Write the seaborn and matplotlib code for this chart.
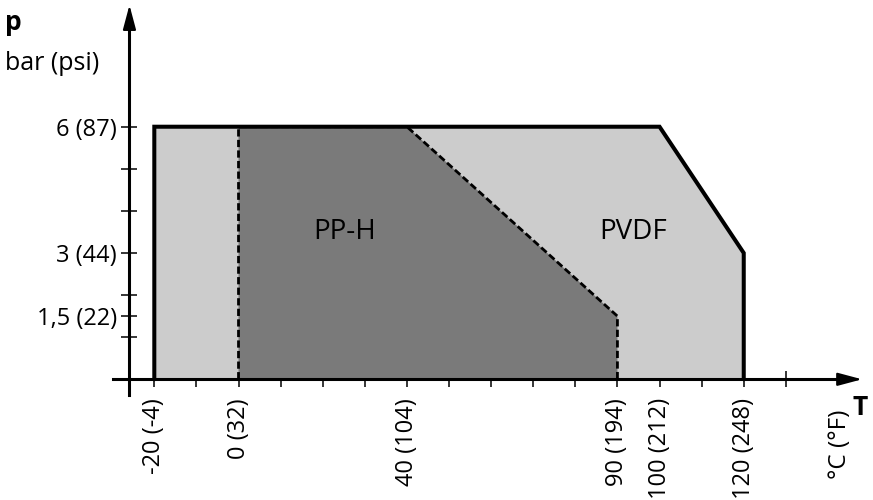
import matplotlib
matplotlib.use("Agg")
import matplotlib.pyplot as plt
import seaborn as sns

# PVDF pressure/temperature envelope (°C, bar)
pvdf_temp = [-20, -20, 100, 120, 120]
pvdf_pres = [0, 6, 6, 3, 0]

# PP-H pressure/temperature envelope (°C, bar)
pph_temp = [0, 0, 40, 90, 90]
pph_pres = [0, 6, 6, 1.5, 0]

x_ticks = [-20, -10, 0, 10, 20, 30, 40, 50, 60, 70, 80, 90, 100, 110, 120, 130]
x_tick_labels = {-20: "-20 (-4)", 0: "0 (32)", 40: "40 (104)", 90: "90 (194)",
                 100: "100 (212)", 120: "120 (248)"}
y_ticks = [1, 1.5, 2, 3, 4, 5, 6]
y_tick_labels = {1.5: "1,5 (22)", 3: "3 (44)", 6: "6 (87)"}

sns.set_theme(style="white")
plt.rcParams["font.family"] = ["Open Sans", "DejaVu Sans"]

FS = 17
LIGHT = "#cccccc"
DARK = "#7a7a7a"

fig = plt.figure(figsize=(8.73, 5), dpi=100)
ax = fig.add_axes([0, 0, 1, 1])
ax.set_xlim(-56.65, 150.7)
ax.set_ylim(-2.867, 9.01)

# filled envelopes
ax.fill(pvdf_temp, pvdf_pres, color=LIGHT, lw=0, zorder=1)
ax.fill(pph_temp, pph_pres, color=DARK, lw=0, zorder=2)

# PP-H boundary (dashed)
sns.lineplot(x=pph_temp, y=pph_pres, sort=False, estimator=None, ax=ax,
             color="black", lw=2.0, zorder=3)
ax.lines[-1].set_dashes([2.6, 1.2])

# PVDF boundary (solid)
sns.lineplot(x=pvdf_temp, y=pvdf_pres, sort=False, estimator=None, ax=ax,
             color="black", lw=2.9, zorder=4)
ax.lines[-1].set_solid_joinstyle("miter")

# axes as arrows through the origin
for side in ("top", "right"):
    ax.spines[side].set_visible(False)
ax.spines["left"].set_position(("data", -25.9))
ax.spines["left"].set_bounds(-0.37, 8.5)
ax.spines["bottom"].set_position(("data", 0))
ax.spines["bottom"].set_bounds(-29.8, 145)
for side in ("left", "bottom"):
    ax.spines[side].set_color("black")
    ax.spines[side].set_linewidth(2.2)
    ax.spines[side].set_zorder(5)

arrow = dict(arrowstyle="-|>,head_length=1.5,head_width=0.4", mutation_scale=10,
             lw=1.5, color="black", shrinkA=0, shrinkB=0)
ax.annotate("", xy=(-25.9, 8.89), xytext=(-25.9, 8.0), arrowprops=arrow, zorder=6)
ax.annotate("", xy=(148.1, 0), xytext=(140, 0), arrowprops=arrow, zorder=6)

ax.set_xticks(x_ticks)
ax.set_xticklabels([x_tick_labels.get(t, "") for t in x_ticks], rotation=90)
ax.set_yticks(y_ticks)
ax.set_yticklabels([y_tick_labels.get(t, "") for t in y_ticks])
ax.tick_params(axis="x", bottom=True, direction="inout", length=11, width=1.1,
               pad=8, labelsize=FS, colors="black")
ax.tick_params(axis="y", left=True, direction="inout", length=11, width=1.1,
               pad=3.5, labelsize=FS, colors="black")
ax.grid(False)

# region labels
ax.text(25.2, 3.33, "PP-H", ha="center", va="baseline", fontsize=20,
        color="black", zorder=7)
ax.text(93.8, 3.33, "PVDF", ha="center", va="baseline", fontsize=20,
        color="black", zorder=7)

# axis titles
ax.text(142.9, -0.73, "°C (°F)", rotation=90, ha="center", va="top",
        fontsize=FS + 0.5, color="black")
ax.text(147.6, -0.66, "T", ha="center", va="center", fontsize=19,
        fontweight="bold", color="black")
fig.text(5 / 873, 1 - 30 / 500, "p", ha="left", va="baseline", fontsize=19,
         fontweight="bold", color="black")
fig.text(5 / 873, 1 - 70 / 500, "bar (psi)", ha="left", va="baseline",
         fontsize=18, color="black")

fig.savefig("out.png", dpi=100)
